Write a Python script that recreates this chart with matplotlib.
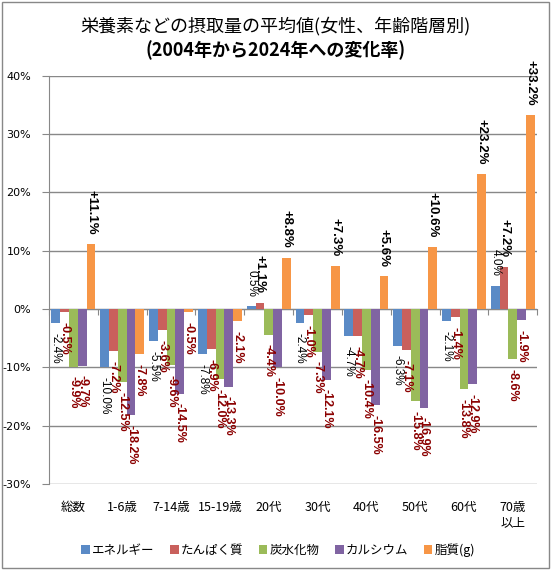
import matplotlib
matplotlib.use("Agg")
import matplotlib.pyplot as plt
import numpy as np
from matplotlib.patches import Rectangle

plt.rcParams['font.family'] = ['Noto Sans CJK JP', 'DejaVu Sans']

# カテゴリと系列 (2004年→2024年の変化率, %)
categories = ['総数', '1-6歳', '7-14歳', '15-19歳', '20代', '30代', '40代', '50代', '60代', '70歳\n以上']
series_names = ['エネルギー', 'たんぱく質', '炭水化物', 'カルシウム', '脂質(g)']
energy = [-2.4, -10.0, -5.5, -7.8, 0.5, -2.4, -4.7, -6.3, -2.1, 4.0]
protein = [-0.5, -7.2, -3.6, -6.9, 1.1, -1.0, -4.7, -7.1, -1.4, 7.2]
carbs = [-9.9, -12.5, -9.6, -12.0, -4.4, -7.3, -10.4, -15.8, -13.8, -8.6]
calcium = [-9.7, -18.2, -14.5, -13.3, -10.0, -12.1, -16.5, -16.9, -12.9, -1.9]
fat = [11.1, -7.8, -0.5, -2.1, 8.8, 7.3, 5.6, 10.6, 23.2, 33.2]
yticks = [-30, -20, -10, 0, 10, 20, 30, 40]

colors = ['#5A8AC6', '#C9605C', '#9BBB59', '#8064A2', '#F79646']
all_series = [energy, protein, carbs, calcium, fat]

fig = plt.figure(figsize=(5.51, 5.70), dpi=100)
ax = fig.add_axes([0.089, 0.151, 0.886, 0.716])

x = np.arange(len(categories))
w = 0.18
for i, (vals, col, name) in enumerate(zip(all_series, colors, series_names)):
    pos = x + (i - 2) * w
    ax.bar(pos, vals, w, color=col, label=name, zorder=3)
    for px, v in zip(pos, vals):
        if i == 0:
            txt = f'{v:.1f}%'
            c, fw, fs = 'black', 'normal', 8.5
        elif v >= 0:
            txt = f'+{v:.1f}%'
            c, fw, fs = 'black', 'bold', 9.5
        else:
            txt = f'{v:.1f}%'
            c, fw, fs = '#8B0000', 'bold', 9
        off = 7 if v >= 0 else -7
        ax.annotate(txt, (px, v), xytext=(0, off), textcoords='offset points',
                    rotation=270, ha='center', va='bottom' if v >= 0 else 'top',
                    fontsize=fs, color=c, fontweight=fw, family='Liberation Sans',
                    zorder=5)

ax.set_ylim(-30, 40)
ax.set_xlim(-0.5, len(categories) - 0.5)
ax.set_yticks(yticks)
ax.set_yticklabels([f'{t}%' for t in yticks], fontsize=8, family='DejaVu Sans')
ax.yaxis.grid(True, color='#888888', linewidth=1, zorder=0)
ax.set_xticks(x)
ax.set_xticklabels(categories, fontsize=9, linespacing=1.3)
ax.tick_params(axis='x', length=0, pad=12)
ax.tick_params(axis='y', length=5, color='#888888', pad=8)
for s in ['top', 'right', 'bottom']:
    ax.spines[s].set_visible(False)
ax.spines['left'].set_color('#888888')

# 0%の軸線と区切り目盛
zero_ax = ax.secondary_xaxis(30 / 70)
zero_ax.spines['bottom'].set_color('#888888')
zero_ax.set_xticks(np.arange(len(categories) + 1) - 0.5)
zero_ax.set_xticklabels([])
zero_ax.tick_params(length=4, color='#888888')

fig.text(0.5, 0.955, '栄養素などの摂取量の平均値(女性、年齢階層別)', ha='center', va='center', fontsize=13)
fig.text(0.5, 0.912, '(2004年から2024年への変化率)', ha='center', va='center', fontsize=13, fontweight='bold')

fig.legend(loc='center', bbox_to_anchor=(0.505, 0.035), ncol=5, frameon=False,
           fontsize=9, handlelength=0.7, handleheight=0.7, handletextpad=0.2,
           columnspacing=1.2)

fig.patches.append(Rectangle((0.004, 0.004), 0.992, 0.992, transform=fig.transFigure,
                             fill=False, edgecolor='#888888', linewidth=1))

fig.savefig('out.png', dpi=100)
